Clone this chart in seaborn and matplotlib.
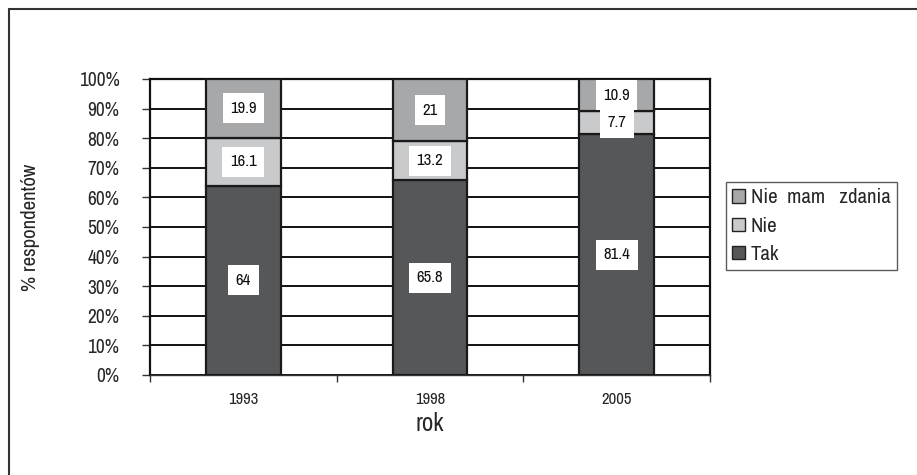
import matplotlib
matplotlib.use("Agg")
import matplotlib.pyplot as plt
from matplotlib import font_manager
from matplotlib.lines import Line2D
from matplotlib.patches import Patch
import seaborn as sns
import pandas as pd

years = ["1993", "1998", "2005"]
tak = [64, 65.8, 81.4]
nie = [16.1, 13.2, 7.7]
brak_zdania = [19.9, 21, 10.9]
series_names = ["Tak", "Nie", "Nie  mam   zdania"]
colors = {series_names[0]: "#565759", series_names[1]: "#c9cacc", series_names[2]: "#a7a8aa"}

sns.set_theme(style="white")

# prefer a condensed sans face, fall back to an Arial-metric one
names = sorted({f.name for f in font_manager.fontManager.ttflist})
narrow = [n for n in names if "Narrow" in n or "Condensed" in n]
family = narrow[0] if narrow else ("Liberation Sans" if "Liberation Sans" in names else "DejaVu Sans")
plt.rcParams["font.family"] = [family, "DejaVu Sans"]
scale = 1.0 if narrow else 0.85

fig = plt.figure(figsize=(9.17, 4.75), dpi=100)
ax = fig.add_axes([150 / 917, 1 - 375 / 475, 560 / 917, 296 / 475])

df = pd.DataFrame({"rok": years, series_names[0]: tak, series_names[1]: nie,
                   series_names[2]: brak_zdania})
bottoms = [0.0] * len(years)
for name in series_names:
    sns.barplot(data=df, x="rok", y=name, color=colors[name], width=0.4,
                bottom=bottoms, edgecolor="#1a1a1a", linewidth=1.6,
                saturation=1, ax=ax, zorder=3)
    vals = df[name].tolist()
    for i, v in enumerate(vals):
        yc = bottoms[i] + v / 2
        ax.text(i, yc, f"{v:g}", ha="center", va="center", fontsize=12 * scale,
                color="#111111", zorder=5,
                bbox=dict(boxstyle="square,pad=0.45", fc="white", ec="none"))
    bottoms = [b + v for b, v in zip(bottoms, vals)]

ax.set_xlim(-0.5, 2.5)
ax.set_ylim(0, 100)
ax.set_yticks(range(0, 101, 10))
ax.set_yticklabels([f"{t}%" for t in range(0, 101, 10)], fontsize=14 * scale)
ax.yaxis.grid(True, color="#111111", linewidth=1.4, zorder=1)
ax.set_axisbelow(True)
ax.tick_params(axis="y", left=True, length=6, width=1, color="#333333", pad=16)
ax.set_xticks([0, 1, 2])
ax.set_xticklabels(years, fontsize=12 * scale)
ax.set_xticks([-0.5, 0.5, 1.5, 2.5], minor=True)
ax.tick_params(axis="x", which="major", bottom=False, pad=6)
ax.tick_params(axis="x", which="minor", bottom=True, length=5, width=1, color="#333333")
for s in ["left", "right", "top"]:
    ax.spines[s].set_color("#111111")
    ax.spines[s].set_linewidth(1.6)
ax.spines["bottom"].set_color("#333333")
ax.spines["bottom"].set_linewidth(1.0)
ax.set_xlabel("rok", fontsize=18 * scale, labelpad=4)
ax.set_ylabel("% respondentów", fontsize=15 * scale, labelpad=28)

handles = [Patch(facecolor=colors[n], edgecolor="#222222", linewidth=1.0)
           for n in reversed(series_names)]
leg = ax.legend(handles, list(reversed(series_names)), loc="upper left",
                bbox_to_anchor=(726 / 917, 1 - 182 / 475), bbox_transform=fig.transFigure,
                frameon=True, fancybox=False, fontsize=15 * scale, handlelength=0.6,
                handleheight=0.6, handletextpad=0.3, labelspacing=0.45,
                borderpad=0.3, borderaxespad=0)
leg.get_frame().set_edgecolor("#333333")
leg.get_frame().set_linewidth(1.0)

# outer frame (top and left edges)
fig.add_artist(Line2D([9 / 917, 1.0], [1 - 9 / 475, 1 - 9 / 475], transform=fig.transFigure,
                      color="#333333", linewidth=1.5))
fig.add_artist(Line2D([9 / 917, 9 / 917], [0, 1 - 9 / 475], transform=fig.transFigure,
                      color="#333333", linewidth=1.5))

fig.savefig("out.png", dpi=100, facecolor="white")
